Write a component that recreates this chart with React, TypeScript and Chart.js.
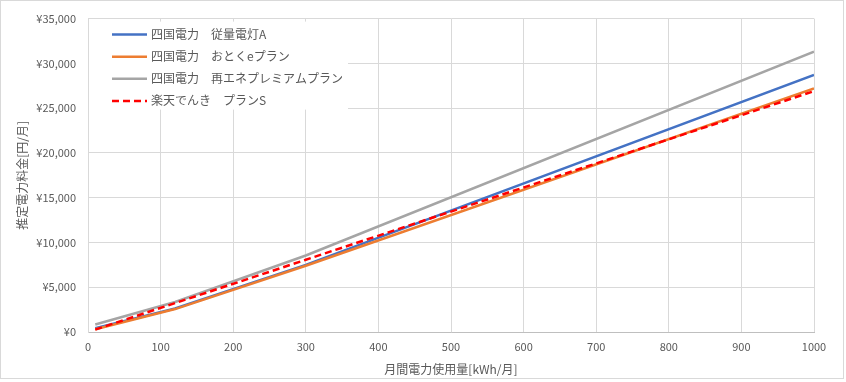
import React, { useEffect, useRef } from "react";
import { Chart, registerables } from "chart.js";

Chart.register(...registerables);

// ---- data ----
const seriesLabels = [
  "四国電力　従量電灯A",
  "四国電力　おとくeプラン",
  "四国電力　再エネプレミアムプラン",
  "楽天でんき　プランS",
];
const usageKWh = [10, 120, 300, 1000];
const juryoA = [411, 2630, 7490, 28700];
const otokuE = [300, 2560, 7400, 27200];
const saienePremium = [830, 3350, 8540, 31300];
const rakutenS = [270, 3230, 8070, 26900];

const xTitle = "月間電力使用量[kWh/月]";
const yTitle = "推定電力料金[円/月]";
const xMin = 0;
const xMax = 1000;
const xStep = 100;
const yMin = 0;
const yMax = 35000;
const yStep = 5000;

const seriesColors = ["#4472C4", "#ED7D31", "#A5A5A5", "#FF0000"];

const FONT = "'Noto Sans CJK JP', 'Noto Sans', sans-serif";
const TEXT = "#595959";
const GRID = "#D9D9D9";

const toPoints = (ys: number[]) => usageKWh.map((x, i) => ({ x, y: ys[i] }));

const insideLegend = {
  id: "insideLegend",
  afterDatasetsDraw(chart: any) {
    const ctx = chart.ctx as CanvasRenderingContext2D;
    const { left, top } = chart.chartArea;
    ctx.save();
    ctx.fillStyle = "#FFFFFF";
    ctx.fillRect(left + 1, top + 3, 259, 88);
    chart.data.datasets.forEach((ds: any, i: number) => {
      const y = top + 16 + i * 22.1;
      ctx.beginPath();
      ctx.strokeStyle = ds.borderColor;
      ctx.lineWidth = ds.borderWidth;
      ctx.setLineDash(ds.borderDash || []);
      ctx.moveTo(left + 24, y);
      ctx.lineTo(left + 59, y);
      ctx.stroke();
      ctx.setLineDash([]);
      ctx.fillStyle = TEXT;
      ctx.font = `12px ${FONT}`;
      ctx.textBaseline = "middle";
      ctx.textAlign = "left";
      ctx.fillText(ds.label, left + 63, y);
    });
    ctx.restore();
  },
};

export default function App() {
  const canvasRef = useRef<HTMLCanvasElement | null>(null);

  useEffect(() => {
    if (!canvasRef.current) return;
    const seriesValues = [juryoA, otokuE, saienePremium, rakutenS];
    const chart = new Chart(canvasRef.current, {
      type: "line",
      data: {
        datasets: seriesValues.map((vals, i) => ({
          label: seriesLabels[i],
          data: toPoints(vals),
          borderColor: seriesColors[i],
          backgroundColor: seriesColors[i],
          borderWidth: 2.5,
          borderDash: i === 3 ? [7, 4] : [],
          pointRadius: 0,
          tension: 0,
          fill: false,
          order: 3 - i,
        })),
      },
      options: {
        animation: false,
        responsive: false,
        maintainAspectRatio: false,
        layout: { padding: { top: 10, right: 32, left: 0, bottom: 0 } },
        plugins: {
          legend: { display: false },
          tooltip: { enabled: false },
        },
        scales: {
          x: {
            type: "linear",
            min: xMin,
            max: xMax,
            afterFit: (s: any) => {
              s.height = 50;
            },
            ticks: {
              stepSize: xStep,
              color: TEXT,
              font: { family: FONT, size: 11 },
              padding: 8,
              maxRotation: 0,
              callback: (v: any) => String(v),
            },
            grid: { color: GRID, drawTicks: false },
            border: { color: "#BFBFBF" },
            title: {
              display: true,
              text: xTitle,
              color: TEXT,
              font: { family: FONT, size: 12 },
              padding: { top: 0, bottom: 5 },
            },
          },
          y: {
            min: yMin,
            max: yMax,
            afterFit: (s: any) => {
              s.width = 88;
            },
            ticks: {
              stepSize: yStep,
              color: TEXT,
              font: { family: FONT, size: 11 },
              padding: 12,
              callback: (v: any) => "¥" + Number(v).toLocaleString("en-US"),
            },
            grid: { color: GRID, drawTicks: false },
            border: { color: GRID },
            title: {
              display: true,
              text: yTitle,
              color: TEXT,
              font: { family: FONT, size: 12 },
              padding: { top: 15, bottom: 0 },
            },
          },
        },
      },
      plugins: [insideLegend],
    });
    return () => chart.destroy();
  }, []);

  return (
    <div
      style={{
        position: "fixed",
        left: 0,
        top: 0,
        width: 846,
        height: 382,
        background: "#FFFFFF",
      }}
    >
      <canvas ref={canvasRef} width={846} height={382} style={{ width: 846, height: 382, display: "block" }} />
      <div
        style={{
          position: "absolute",
          left: 0,
          top: 0,
          width: 844,
          height: 379,
          boxSizing: "border-box",
          border: "1px solid #D9D9D9",
          pointerEvents: "none",
        }}
      />
    </div>
  );
}
